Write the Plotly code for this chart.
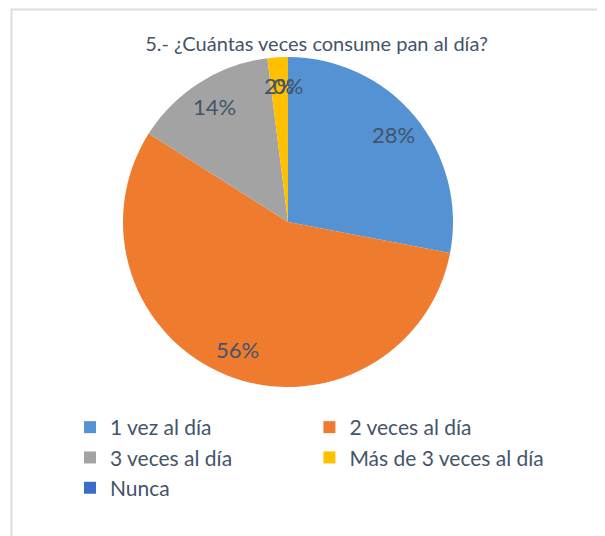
import math
import plotly.graph_objects as go

categories = ["1 vez al día", "2 veces al día", "3 veces al día", "Más de 3 veces al día", "Nunca"]
values = [28, 56, 14, 2, 0]
colors = ["#5592D4", "#EF7B2E", "#A3A3A3", "#FFC000", "#3D6CC7"]
title_text = "5.- ¿Cuántas veces consume pan al día?"

W, H = 605, 536
text_color = "#44546A"

# pie geometry (pixels from the figure's top-left)
cx, cy, R = 280, 214, 165
dom_x = [(cx - R) / W, (cx + R) / W]
dom_y = [1 - (cy + R) / H, 1 - (cy - R) / H]

fig = go.Figure(go.Pie(
    labels=categories,
    values=values,
    marker=dict(colors=colors, line=dict(width=0)),
    sort=False,
    direction="clockwise",
    rotation=0,
    textinfo="none",
    domain=dict(x=dom_x, y=dom_y),
    hoverinfo="label+percent",
))

# data labels placed at the slice mid-angles (computed from the values)
total = sum(values)
annotations = []
cum = 0
label_r = 0.83 * R
for v in values:
    mid = (cum + v / 2) / total * 2 * math.pi
    cum += v
    px = cx + label_r * math.sin(mid)
    py = cy - label_r * math.cos(mid)
    annotations.append(dict(
        x=px / W, y=1 - py / H, xref="paper", yref="paper",
        text=f"{round(100 * v / total)}%", showarrow=False,
        xanchor="center", yanchor="middle",
        font=dict(family="Lato", size=22, color=text_color),
    ))

fig.update_layout(
    width=W, height=H,
    margin=dict(l=0, r=0, t=0, b=0, autoexpand=False),
    paper_bgcolor="white",
    title=dict(text=title_text, x=0.51, xanchor="center", y=1 - 36 / H, yanchor="middle",
               font=dict(family="Lato", size=20, color=text_color)),
    legend=dict(orientation="h", x=62 / W, xanchor="left", y=1 - 399 / H, yanchor="top",
                font=dict(family="Lato", size=21, color=text_color),
                traceorder="normal"),
    annotations=annotations,
    shapes=[dict(type="rect", xref="paper", yref="paper", x0=3.5 / W, x1=1.05,
                 y0=-0.05, y1=1 - 1.5 / H, line=dict(color="#D9DDE3", width=2))],
)

fig.write_html("out.html")
